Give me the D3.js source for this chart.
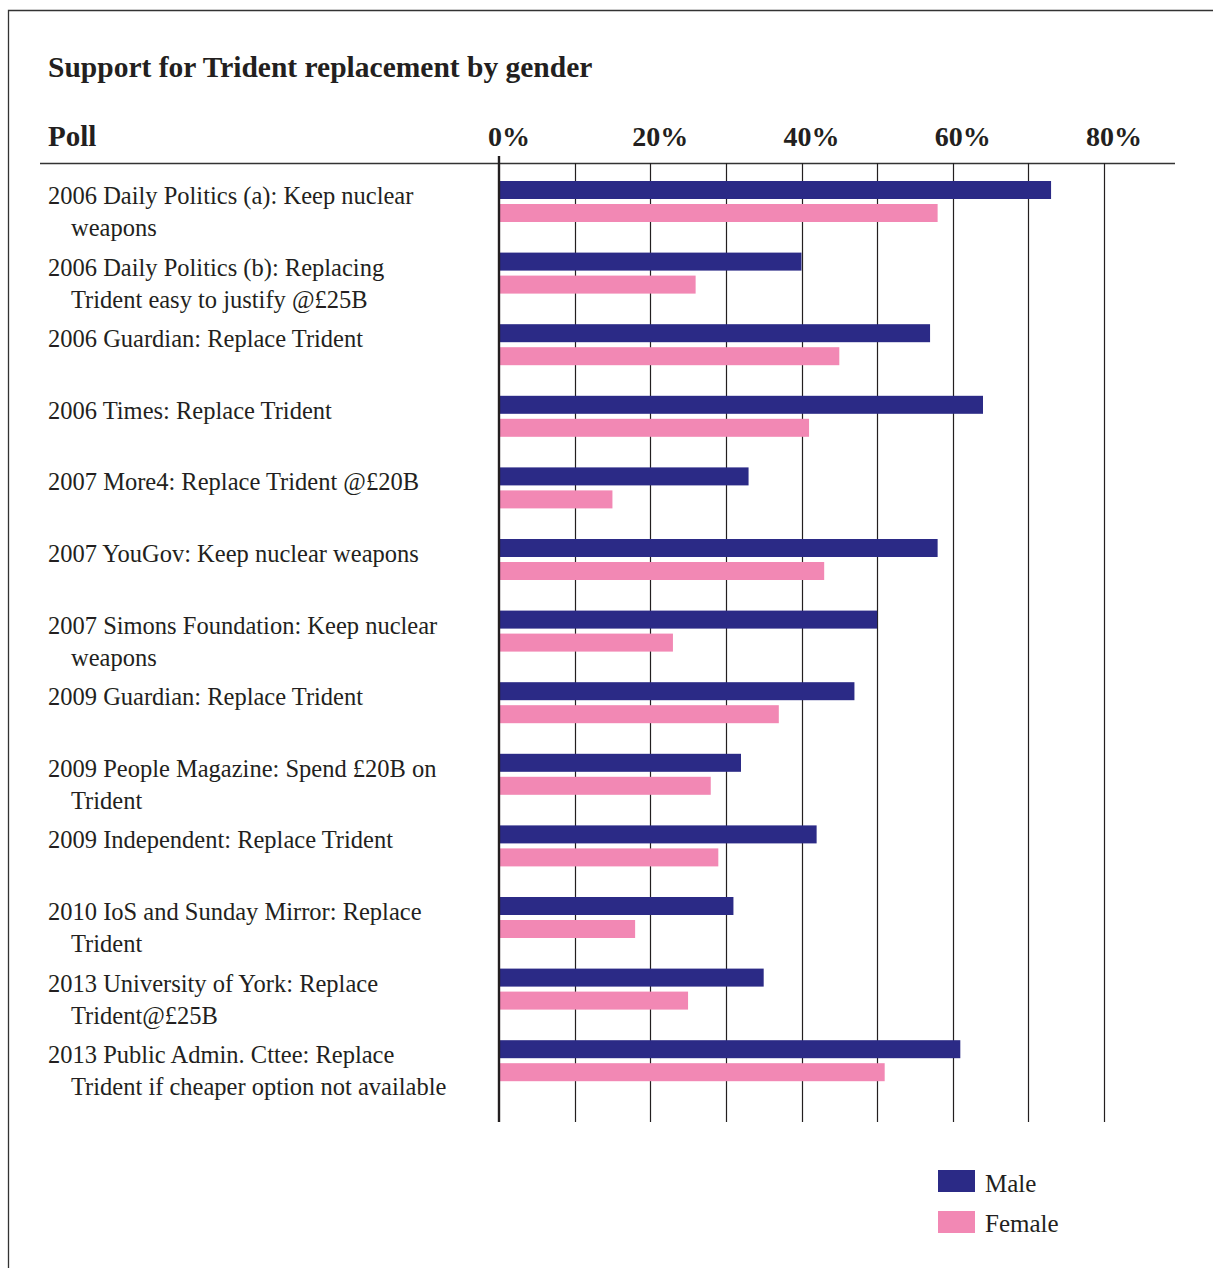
<!DOCTYPE html>
<html>
<head>
<meta charset="utf-8">
<script src="https://cdn.jsdelivr.net/npm/d3@7"></script>
<style>
  body { margin: 0; background: #fff; }
  svg { display: block; }
  text { font-family: "Liberation Serif", "DejaVu Serif", serif; fill: #231f20; }
</style>
</head>
<body>
<svg id="chart" width="1213" height="1268"></svg>
<script>
// ---- data ----
const polls = [
  ["2006 Daily Politics (a): Keep nuclear", "weapons"],
  ["2006 Daily Politics (b): Replacing", "Trident easy to justify @£25B"],
  ["2006 Guardian: Replace Trident"],
  ["2006 Times: Replace Trident"],
  ["2007 More4: Replace Trident @£20B"],
  ["2007 YouGov: Keep nuclear weapons"],
  ["2007 Simons Foundation: Keep nuclear", "weapons"],
  ["2009 Guardian: Replace Trident"],
  ["2009 People Magazine: Spend £20B on", "Trident"],
  ["2009 Independent: Replace Trident"],
  ["2010 IoS and Sunday Mirror: Replace", "Trident"],
  ["2013 University of York: Replace", "Trident@£25B"],
  ["2013 Public Admin. Cttee: Replace", "Trident if cheaper option not available"]
];
const male   = [73, 40, 57, 64, 33, 58, 50, 47, 32, 42, 31, 35, 61];
const female = [58, 26, 45, 41, 15, 43, 23, 37, 28, 29, 18, 25, 51];
const gridTicks = [0, 10, 20, 30, 40, 50, 60, 70, 80];
const labelTicks = [0, 20, 40, 60, 80];
const seriesNames = ["Male", "Female"];
const colors = ["#2b2a86", "#f288b4"];

// ---- layout ----
const svg = d3.select("#chart");
const x = d3.scaleLinear().domain([0, 80]).range([499, 1104]);
const idx = polls.map((d, i) => i);
const y = d3.scaleBand().domain(idx).range([174, 174 + 13 * 71.6]).padding(0);

// frame
svg.append("path").attr("d", "M8.5,1268 L8.5,10.5 L1213,10.5")
  .attr("fill", "none").attr("stroke", "#333").attr("stroke-width", 1.3);

// title
svg.append("text").attr("x", 48).attr("y", 77)
  .attr("font-size", 29.5).attr("font-weight", "bold")
  .text("Support for Trident replacement by gender");

svg.append("text").attr("x", 48).attr("y", 146)
  .attr("font-size", 29).attr("font-weight", "bold").text("Poll");

// tick labels
svg.selectAll(".tl").data(labelTicks).enter().append("text")
  .attr("class", "tl")
  .attr("x", d => x(d) + 10).attr("y", 146)
  .attr("text-anchor", "middle")
  .attr("font-size", 28).attr("font-weight", "bold")
  .text(d => d + "%");

// header line
svg.append("line").attr("x1", 40).attr("x2", 1175).attr("y1", 163.5).attr("y2", 163.5)
  .attr("stroke", "#333").attr("stroke-width", 1.3);

// gridlines
svg.selectAll(".grid").data(gridTicks.slice(1)).enter().append("line")
  .attr("x1", d => Math.round(x(d)) + 0.5).attr("x2", d => Math.round(x(d)) + 0.5)
  .attr("y1", 163).attr("y2", 1122)
  .attr("stroke", "#231f20").attr("stroke-width", 1.2);

// bars
const g = svg.append("g");
g.selectAll(".m").data(male).enter().append("rect")
  .attr("x", x(0)).attr("y", (d, i) => y(i) + 7)
  .attr("width", d => x(d) - x(0)).attr("height", 18)
  .attr("fill", colors[0]);
g.selectAll(".f").data(female).enter().append("rect")
  .attr("x", x(0)).attr("y", (d, i) => y(i) + 30)
  .attr("width", d => x(d) - x(0)).attr("height", 18)
  .attr("fill", colors[1]);

// axis line
svg.append("line").attr("x1", 499).attr("x2", 499).attr("y1", 156).attr("y2", 1122)
  .attr("stroke", "#231f20").attr("stroke-width", 2.4);

// labels
polls.forEach((lines, i) => {
  lines.forEach((t, j) => {
    svg.append("text")
      .attr("x", j === 0 ? 48 : 71)
      .attr("y", y(i) + 30 + j * 32)
      .attr("font-size", 24.5)
      .text(t);
  });
});

// legend
const leg = svg.append("g");
seriesNames.forEach((n, i) => {
  leg.append("rect").attr("x", 938).attr("y", 1170 + i * 41)
    .attr("width", 37).attr("height", 22).attr("fill", colors[i]);
  leg.append("text").attr("x", 985).attr("y", 1192 + i * 40)
    .attr("font-size", 25).text(n);
});
</script>
</body>
</html>
